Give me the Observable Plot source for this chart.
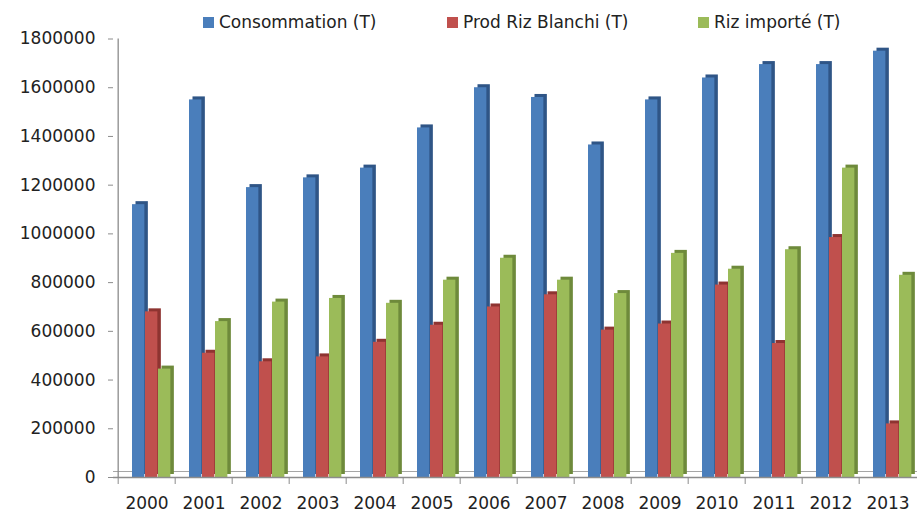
<!DOCTYPE html>
<html>
<head>
<meta charset="utf-8">
<script src="https://cdn.jsdelivr.net/npm/d3@7"></script>
<script src="https://cdn.jsdelivr.net/npm/@observablehq/plot@0.6"></script>
<style>
  html, body { margin: 0; padding: 0; background: #fff; }
  #wrap { position: relative; width: 917px; height: 522px; overflow: hidden; }
  #legend { position: absolute; top: 12px; left: 0; width: 917px; height: 26px;
    font-family: "DejaVu Sans", sans-serif; font-size: 17px; color: #222; }
  .item { position: absolute; top: 0; display: flex; align-items: center; white-space: nowrap; }
  .sw { width: 11px; height: 11px; margin-right: 5px; display: inline-block; }
  svg text { font-family: "DejaVu Sans", sans-serif; }
</style>
</head>
<body>
<div id="wrap">
  <div id="chart"></div>
  <div id="legend"></div>
</div>
<script>
const years = ["2000","2001","2002","2003","2004","2005","2006","2007","2008","2009","2010","2011","2012","2013"];
const consommation = [1120000,1550000,1190000,1230000,1270000,1435000,1600000,1560000,1365000,1550000,1640000,1695000,1695000,1750000];
const prodRizBlanchi = [680000,510000,475000,495000,555000,625000,700000,750000,605000,630000,790000,550000,985000,220000];
const rizImporte = [445000,640000,720000,735000,715000,810000,900000,810000,755000,920000,855000,935000,1270000,830000];
const yTicks = [0,200000,400000,600000,800000,1000000,1200000,1400000,1600000,1800000];

const seriesNames = ["Consommation (T)", "Prod Riz Blanchi (T)", "Riz importé (T)"];
const seriesValues = [consommation, prodRizBlanchi, rizImporte];
const frontColors = ["#4a7ebb", "#c0504d", "#9bbb59"];
const sideColors = ["#2f5586", "#8e3431", "#6e8a3b"];
const legendLeft = [203, 447, 698];

const x0 = 113, x1 = 920;
const step = (x1 - x0) / years.length;
const barW = 13;
const offsets = [14, 27, 40];

const marks = [];
// 3D floor line
marks.push(Plot.ruleY([0], {stroke: "#a6a6a6", strokeWidth: 1.2, dy: -6, dx: 0}));
seriesValues.forEach((vals, i) => {
  const data = years.map((y, j) => ({year: y, value: vals[j]}));
  const insetLeft = offsets[i];
  const insetRight = step - offsets[i] - barW;
  marks.push(Plot.barY(data, {x: "year", y: "value", fill: sideColors[i], insetLeft, insetRight, dx: 3.5, dy: -3}));
  marks.push(Plot.barY(data, {x: "year", y: "value", fill: frontColors[i], insetLeft, insetRight}));
});
marks.push(Plot.ruleY([0], {stroke: "#8c8c8c", strokeWidth: 1.3}));
marks.push(Plot.ruleX([years[0]], {stroke: "#8c8c8c", strokeWidth: 1.3, dx: -step / 2, y1: 0, y2: 1800000}));
marks.push(Plot.axisY({ticks: yTicks, tickSize: 5, tickPadding: 13, tickFormat: d3.format("d"),
  fontSize: 17, fill: "#222", stroke: "#8c8c8c", label: null, style: {letterSpacing: "0.8px"}}));
marks.push(Plot.axisX({tickSize: 7, dx: -step / 2, text: null, stroke: "#8c8c8c", label: null}));
marks.push(Plot.axisX({tickSize: 0, tickPadding: 19, fontSize: 17, fill: "#222", label: null}));

const chart = Plot.plot({
  width: 917,
  height: 522,
  marginLeft: x0,
  marginRight: 0,
  marginTop: 38.5,
  marginBottom: 45,
  x: {type: "band", domain: years, range: [x0, x1], padding: 0},
  y: {domain: [0, 1800000], range: [477, 38.5]},
  style: {background: "#fff", overflow: "hidden"},
  marks
});
document.getElementById("chart").appendChild(chart);

const legend = document.getElementById("legend");
seriesNames.forEach((name, i) => {
  const item = document.createElement("div");
  item.className = "item";
  item.style.left = legendLeft[i] + "px";
  const sw = document.createElement("span");
  sw.className = "sw";
  sw.style.background = frontColors[i];
  const t = document.createElement("span");
  t.textContent = name;
  item.appendChild(sw);
  item.appendChild(t);
  legend.appendChild(item);
});
</script>
</body>
</html>
